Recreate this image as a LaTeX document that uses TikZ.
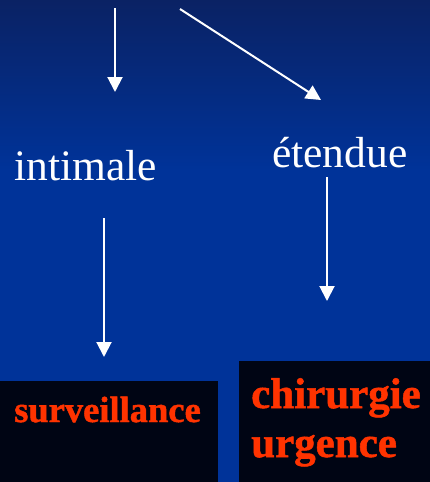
\documentclass[tikz,border=0pt]{standalone}
\usepackage{fontspec}
\setmainfont{Liberation Serif}
\newfontfamily\heavyserif[FakeBold=1.2]{Liberation Serif Bold}
\usetikzlibrary{arrows.meta}
\definecolor{navytop}{RGB}{10,34,100}
\definecolor{bluemid}{RGB}{0,51,153}
\definecolor{boxblack}{RGB}{0,5,20}
\definecolor{redtxt}{RGB}{255,51,0}
\tikzset{
  conn/.style={draw=white, line width=2pt, -{Triangle[width=15pt,length=15pt]}},
  wlabel/.style={text=white, inner sep=0pt, anchor=base west, font=\fontsize{43.5}{50}\selectfont},
  rlabel/.style={text=redtxt, inner sep=0pt, anchor=base west},
  blackbox/.style={fill=boxblack, draw=none, inner sep=0pt, anchor=north west}
}
\begin{document}
\begin{tikzpicture}[x=1pt,y=-1pt]
\useasboundingbox (0,0) rectangle (430,482);
\shade[top color=navytop, bottom color=bluemid] (0,0) rectangle (430,170);
\fill[bluemid] (0,169.5) rectangle (430,482);
% boxes
\node[blackbox, minimum width=218pt, minimum height=101pt] (boxL) at (0,381) {};
\node[blackbox, minimum width=191pt, minimum height=121pt] (boxR) at (239,361) {};
% labels
\node[wlabel] (intimale) at (14,180) {intimale};
\node[wlabel] (etendue) at (272,167) {étendue};
\node[rlabel, font=\heavyserif\fontsize{36.5}{40}\selectfont] (surv) at (14,422) {surveillance};
\node[rlabel, font=\heavyserif\fontsize{43}{49}\selectfont] (chir) at (251,408) {chirurgie};
\node[rlabel, font=\heavyserif\fontsize{43}{49}\selectfont] (urg) at (251,457) {urgence};
% connector ends
\coordinate (s1) at (115,8);
\coordinate (e1) at (115,92);
\coordinate (s2) at (180,9);
\coordinate (e2) at (321,100);
\coordinate (s3) at (104,218);
\coordinate (e3) at (104,357);
\coordinate (s4) at (327,177);
\coordinate (e4) at (327,301);
\draw[conn] (s1) -- (e1);
\draw[conn] (s2) -- (e2);
\draw[conn] (s3) -- (e3);
\draw[conn] (s4) -- (e4);
\end{tikzpicture}
\end{document}
